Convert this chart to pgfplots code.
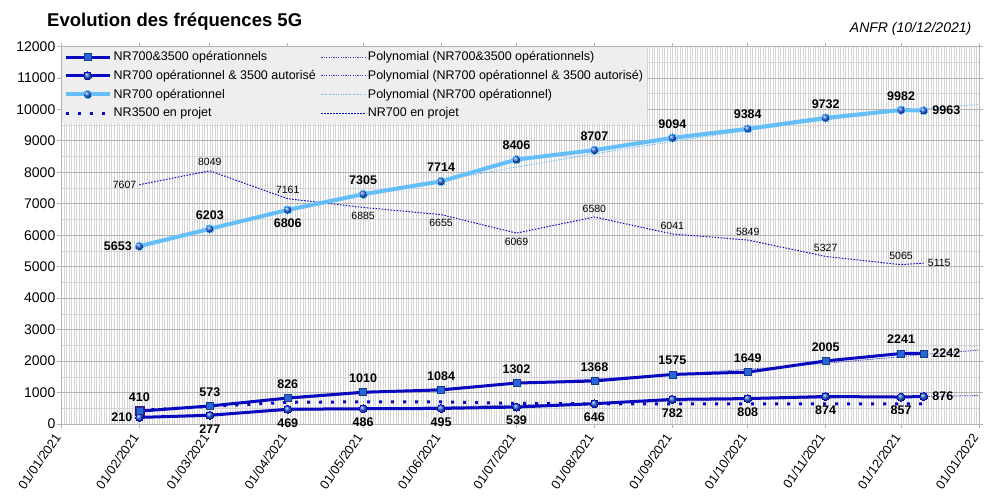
\documentclass[border=0pt]{standalone}
\usepackage{pgfplots}
\usepackage{pgfplotstable}
\pgfplotsset{compat=1.18}
\usepackage{fontspec}
\setmainfont{Liberation Sans}
\definecolor{dblue}{RGB}{8,8,190}
\definecolor{lblue}{RGB}{100,190,250}
\definecolor{mblue}{RGB}{40,100,220}
\definecolor{gridmaj}{RGB}{180,180,180}
\definecolor{gridmin}{RGB}{212,212,212}
\definecolor{leggray}{RGB}{238,238,238}
\definecolor{cubepurple}{RGB}{60,10,150}

\pgfplotstableread{
x y
31 410
59 573
90 826
120 1010
151 1084
181 1302
212 1368
243 1575
273 1649
304 2005
334 2241
343 2242
}\sone
\pgfplotstableread{
x y
31 210
59 277
90 469
120 486
151 495
181 539
212 646
243 782
273 808
304 874
334 857
343 876
}\stwo
\pgfplotstableread{
x y
31 5653
59 6203
90 6806
120 7305
151 7714
181 8406
212 8707
243 9094
273 9384
304 9732
334 9982
343 9963
}\sthree
\pgfplotstableread{
x y
31 7607
59 8049
90 7161
120 6885
151 6655
181 6069
212 6580
243 6041
273 5849
304 5327
334 5065
343 5115
}\proj

\newcommand\bigf{\fontsize{12.5}{14}\selectfont\bfseries}
\newcommand\smallf{\fontsize{10.5}{12}\selectfont}

\begin{document}
\begin{tikzpicture}
\useasboundingbox (-61.5pt,-75pt) rectangle (941.5pt,424pt);
\begin{axis}[
  scale only axis, width=917.5pt, height=377.5pt,
  xmin=0, xmax=365, ymin=0, ymax=12000,
  xtick={0,31,59,90,120,151,181,212,243,273,304,334,365},
  xticklabels={01/01/2021,01/02/2021,01/03/2021,01/04/2021,01/05/2021,01/06/2021,01/07/2021,01/08/2021,01/09/2021,01/10/2021,01/11/2021,01/12/2021,01/01/2022},
  minor xtick={0,1,...,365},
  ytick={0,1000,...,12000},
  minor ytick={500,1500,...,11500},
  scaled y ticks=false,
  xmajorgrids=false, xminorgrids=true, ymajorgrids=true, yminorgrids=true,
  major grid style={gridmaj, line width=0.8pt},
  minor grid style={gridmin, line width=0.6pt},
  tick align=outside, major tick length=4pt, minor tick length=0pt,
  tick style={gridmaj, line width=0.8pt},
  axis line style={gridmaj, line width=0.8pt},
  /pgf/number format/.cd, 1000 sep={}, assume math mode=true, /pgfplots/.cd,
  yticklabel style={font=\fontsize{14}{16}\selectfont, inner sep=2pt},
  xticklabel style={xshift=-3pt, yshift=-6pt, rotate=55, anchor=east, font=\fontsize{12.8}{14}\selectfont, inner sep=1pt},
  legend columns=2,
  legend style={at={(0,1)}, anchor=north west, fill=leggray, draw=none,
    font=\fontsize{12.5}{15}\selectfont, inner xsep=2pt, inner ysep=3pt,
    nodes={inner sep=2pt}, row sep=4pt, cells={anchor=west},
    /tikz/every even column/.append style={column sep=3pt}},
  legend image code/.code={\draw[mark repeat=2,mark phase=2,#1] plot coordinates {(0pt,0pt) (22pt,0pt) (44pt,0pt)};},
  lbl/.style n args={3}{forget plot, draw=none, mark=none, nodes near coords, point meta=explicit symbolic,
    nodes near coords style={anchor=#1, inner sep=#2, text=black, font=#3}},
]
% trendlines
\addplot[forget plot, dblue!80, line width=0.8pt, dash pattern=on 1.2pt off 1.2pt] coordinates {(31,400) (59,590) (90,790) (120,970) (151,1130) (181,1280) (212,1430) (243,1580) (273,1740) (304,1930) (334,2140) (343,2210) (365,2350)};
\addplot[forget plot, dblue!80, line width=0.8pt, dash pattern=on 1.2pt off 1.2pt] coordinates {(31,215) (59,320) (90,420) (120,490) (151,545) (181,600) (212,660) (243,720) (273,775) (304,825) (334,865) (343,875) (365,905)};
\addplot[forget plot, lblue, line width=0.8pt, dash pattern=on 1.2pt off 1.2pt] coordinates {(31,5690) (59,6230) (90,6770) (120,7260) (151,7740) (181,8170) (212,8590) (243,8980) (273,9330) (304,9660) (334,9950) (343,10020) (365,10160)};
% NR700 en projet
\addplot[forget plot, dblue, line width=1pt, dash pattern=on 1.5pt off 1.5pt] table[x=x,y=y] {\proj};
% NR3500 en projet
\addplot[forget plot, dblue, line width=3pt, dash pattern=on 3pt off 9pt] coordinates {(31,430) (59,560) (90,690) (120,705) (151,705) (181,655) (212,640) (243,640) (273,640) (304,640) (334,640) (343,640)};
\addplot[forget plot, only marks, mark=square*, mark size=4.5pt, mark options={solid, fill=cubepurple, draw=cubepurple, line width=0.5pt}] coordinates {(31,430)};
% NR700 operationnel
\addplot[forget plot, lblue, line width=4pt, mark=ball, mark size=4.2pt, mark options={solid, ball color=mblue, line width=0pt}] table[x=x,y=y] {\sthree};
% NR700 op & 3500 autorise
\addplot[forget plot, dblue, line width=3pt, mark=ball, mark size=4pt, mark options={solid, ball color=mblue, line width=0pt}] table[x=x,y=y] {\stwo};
% NR700&3500
\addplot[forget plot, dblue, line width=3pt, mark=square*, mark size=3.5pt, mark options={solid, fill=mblue, draw=mblue!60!black, line width=0.5pt}] table[x=x,y=y] {\sone};

% data labels
\addplot[lbl={south}{9.5pt}{\bigf}] coordinates {(31,410)[410] (59,573)[573] (90,826)[826] (120,1010)[1010] (151,1084)[1084] (181,1302)[1302] (212,1368)[1368] (243,1575)[1575] (273,1649)[1649] (304,2005)[2005] (334,2241)[2241]};
\addplot[lbl={west}{8.5pt}{\bigf}] coordinates {(343,2242)[2242]};
\addplot[lbl={east}{7pt}{\bigf}] coordinates {(31,210)[210]};
\addplot[lbl={north}{9pt}{\bigf}] coordinates {(59,277)[277] (90,469)[469] (120,486)[486] (151,495)[495] (181,539)[539] (212,646)[646] (243,782)[782] (273,808)[808] (304,874)[874] (334,857)[857]};
\addplot[lbl={west}{8.5pt}{\bigf}] coordinates {(343,876)[876]};
\addplot[lbl={east}{7.5pt}{\bigf}] coordinates {(31,5653)[5653]};
\addplot[lbl={north}{9pt}{\bigf}] coordinates {(90,6806)[6806]};
\addplot[lbl={south}{9.5pt}{\bigf}] coordinates {(59,6203)[6203] (120,7305)[7305] (151,7714)[7714] (181,8406)[8406] (212,8707)[8707] (243,9094)[9094] (273,9384)[9384] (304,9732)[9732] (334,9982)[9982]};
\addplot[lbl={west}{8.5pt}{\bigf}] coordinates {(343,9963)[9963]};
\addplot[lbl={east}{3pt}{\smallf}] coordinates {(31,7607)[7607]};
\addplot[lbl={south}{4.5pt}{\smallf}] coordinates {(59,8049)[8049] (90,7161)[7161] (212,6580)[6580] (243,6041)[6041] (273,5849)[5849] (304,5327)[5327] (334,5065)[5065]};
\addplot[lbl={north}{4.5pt}{\smallf}] coordinates {(120,6885)[6885] (151,6655)[6655] (181,6069)[6069]};
\addplot[lbl={west}{4pt}{\smallf}] coordinates {(343,5115)[5115]};

\addlegendimage{dblue, line width=3pt, mark=square*, mark size=3.5pt, mark options={solid, fill=mblue, draw=mblue!60!black, line width=0.5pt}}
\addlegendentry{NR700\&3500 opérationnels}
\addlegendimage{dblue!80, line width=0.8pt, dash pattern=on 1.2pt off 1.2pt}
\addlegendentry{Polynomial (NR700\&3500 opérationnels)}
\addlegendimage{dblue, line width=3pt, mark=ball, mark size=4pt, mark options={solid, ball color=mblue, line width=0pt}}
\addlegendentry{NR700 opérationnel \& 3500 autorisé}
\addlegendimage{dblue!80, line width=0.8pt, dash pattern=on 1.2pt off 1.2pt}
\addlegendentry{Polynomial (NR700 opérationnel \& 3500 autorisé)}
\addlegendimage{lblue, line width=4pt, mark=ball, mark size=4.2pt, mark options={solid, ball color=mblue, line width=0pt}}
\addlegendentry{NR700 opérationnel}
\addlegendimage{lblue, line width=0.8pt, dash pattern=on 1.2pt off 1.2pt}
\addlegendentry{Polynomial (NR700 opérationnel)}
\addlegendimage{dblue, line width=3pt, dash pattern=on 3pt off 9pt}
\addlegendentry{NR3500 en projet}
\addlegendimage{dblue, line width=1pt, dash pattern=on 1.5pt off 1.5pt}
\addlegendentry{NR700 en projet}
\end{axis}
\node[anchor=base west, inner sep=0pt, font=\fontsize{18.5}{20}\selectfont\bfseries] at (-14.5pt,397pt) {Evolution des fréquences 5G};
\node[anchor=base east, inner sep=0pt, font=\fontsize{14}{16}\selectfont\itshape] at (910pt,391pt) {ANFR (10/12/2021)};
\end{tikzpicture}
\end{document}
